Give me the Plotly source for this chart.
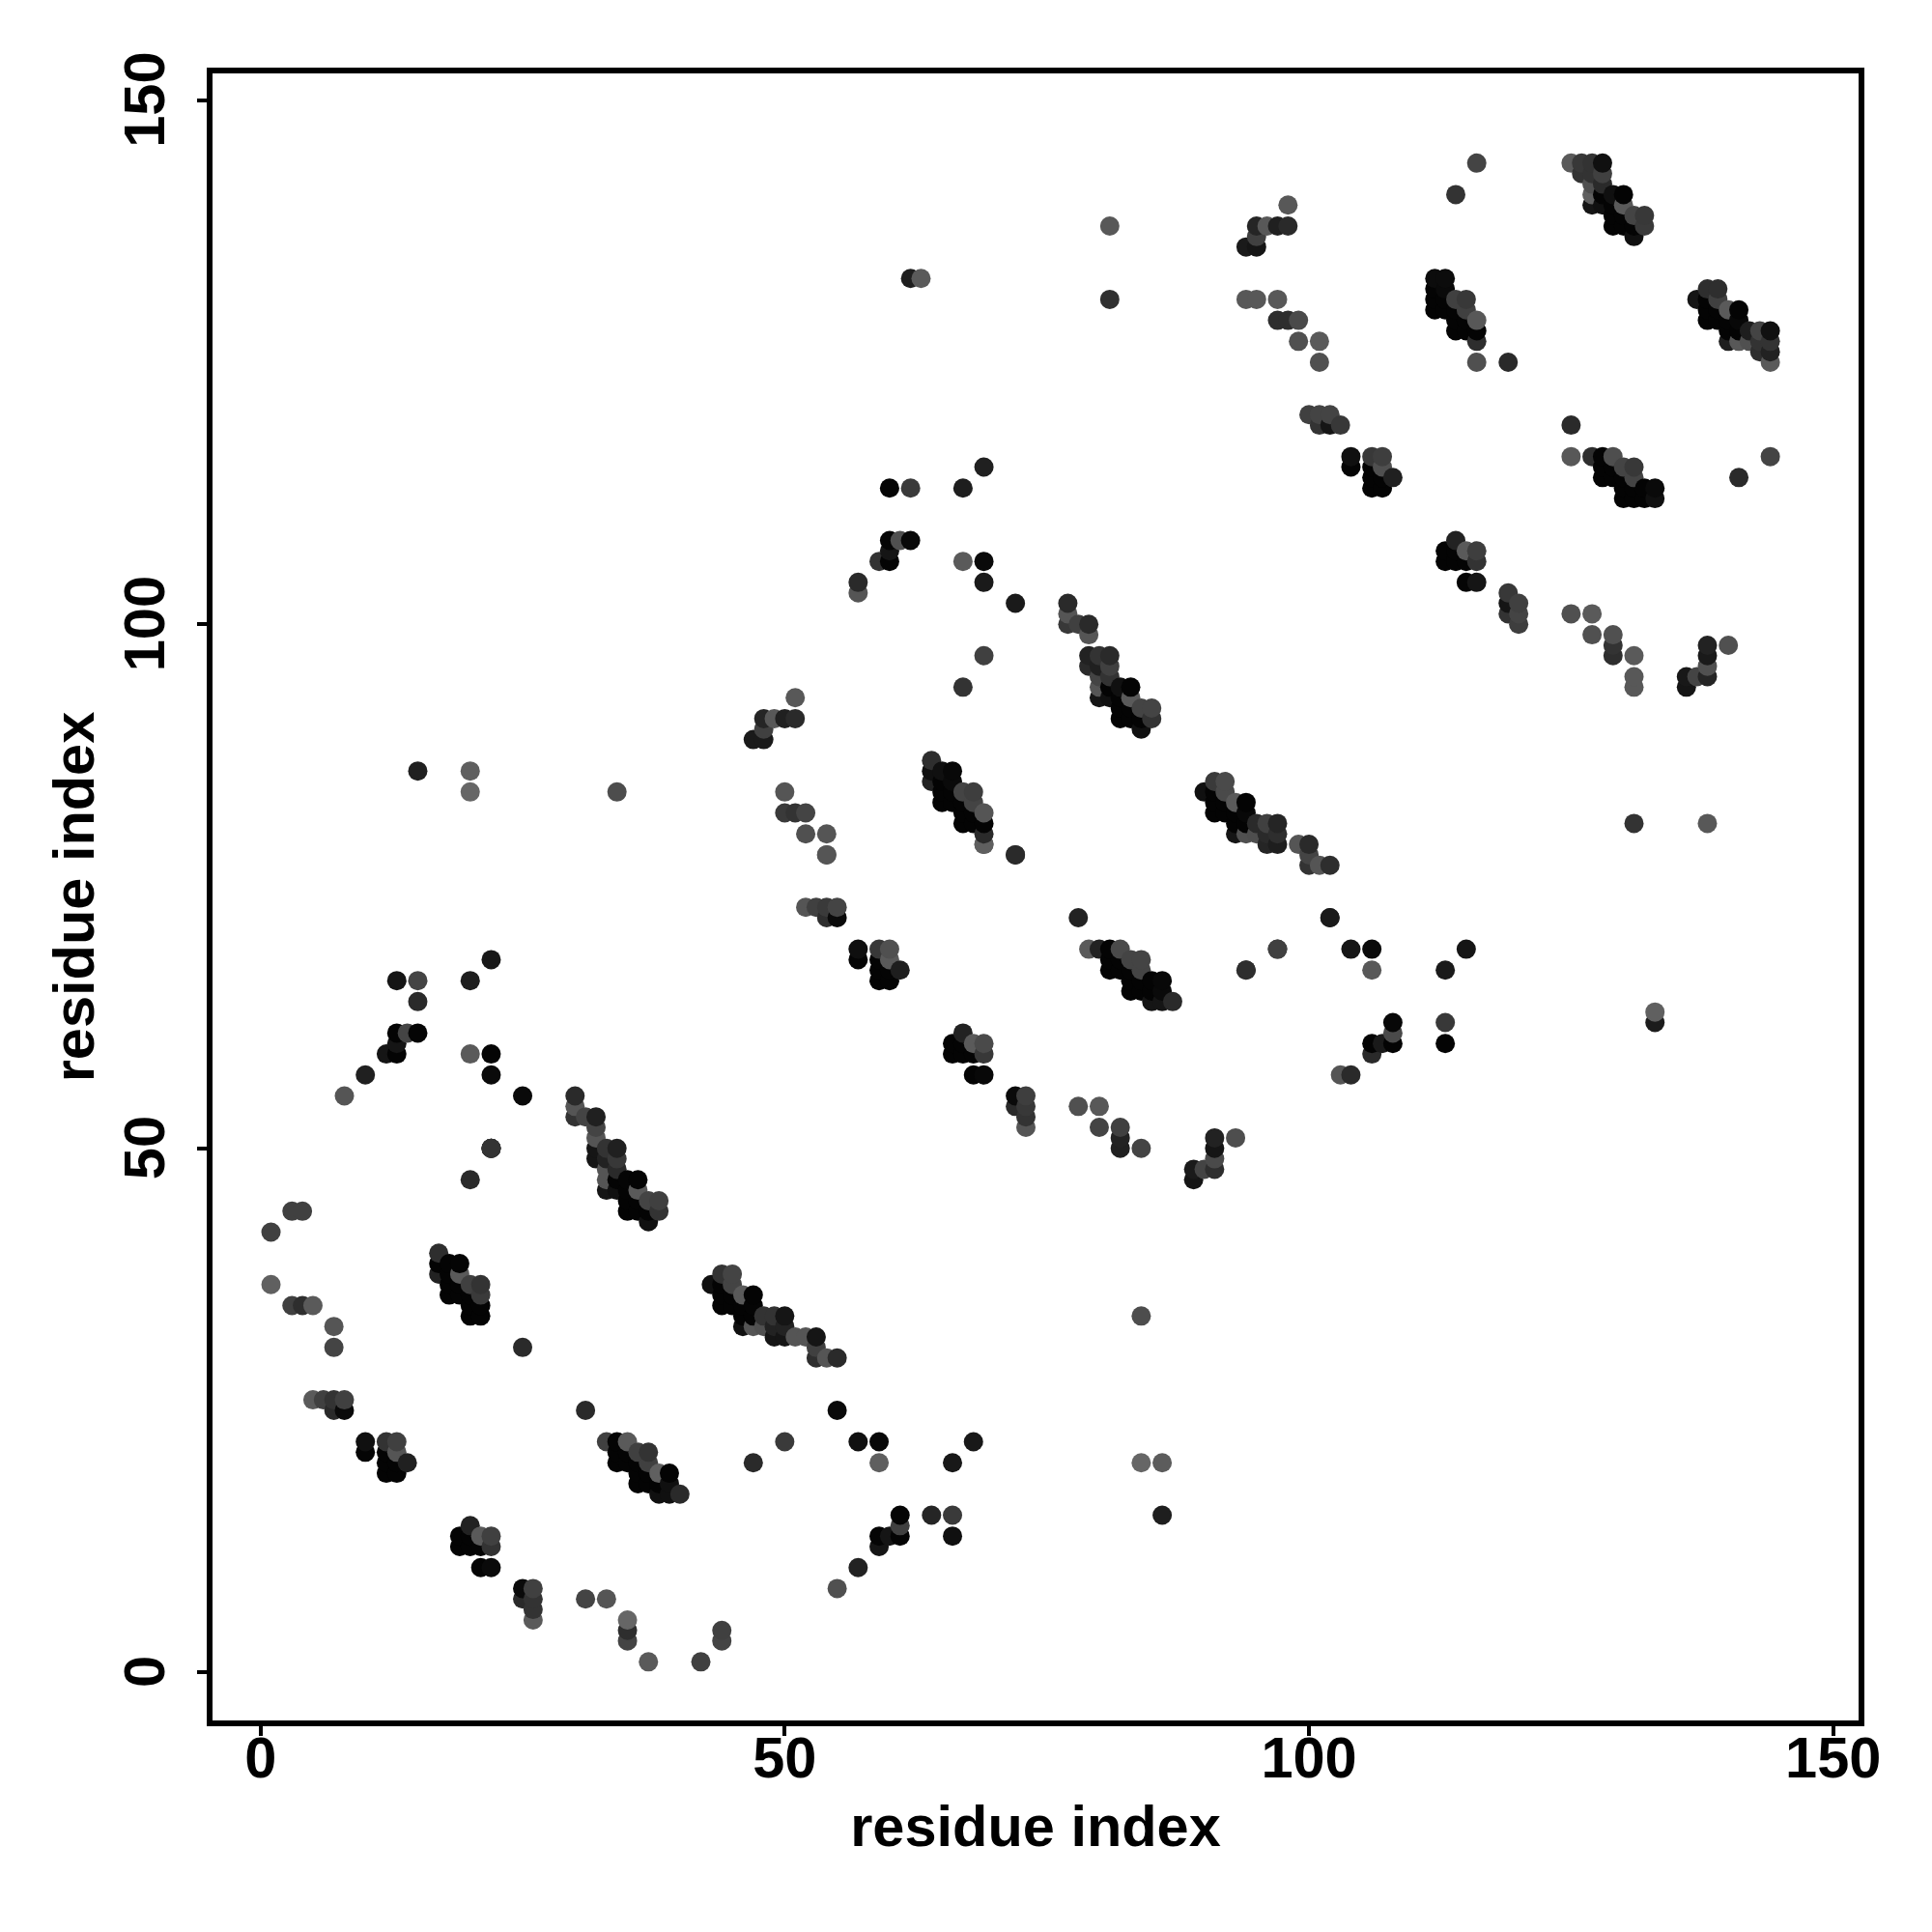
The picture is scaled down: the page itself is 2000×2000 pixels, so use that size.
import numpy as np
import plotly.graph_objects as go

# Each line of the three lists below lines up with the same line in the others.
residue_x = [
 1, 3, 4, 1, 3, 4, 5, 7, 7, 20, 25, 22, 22, 22, 22,
 17, 17, 18, 19, 17, 18, 19, 18, 19, 20, 21, 18, 19, 20, 21, 20, 21, 20, 21,
 5, 6, 7, 8, 7, 8, 10, 10, 12, 13, 12, 13, 12, 13, 14, 12, 13,
 20, 19, 20, 21, 22, 19, 20, 21, 22, 21, 22, 25, 26, 25, 26, 26, 26, 31, 33, 35, 35, 35, 37, 42,
 31, 33, 34, 35, 34, 35, 36, 37, 34, 35, 36, 37, 36, 37, 38, 39, 36, 37, 38, 39, 38, 39, 40,
 15, 20, 20, 34, 22, 13, 15, 20, 15, 13, 14, 15, 13, 12, 13, 10, 8, 20, 22, 22, 25,
 30, 30, 30, 31, 32, 32, 32, 32, 33, 34, 32, 33, 34, 33, 34, 33, 34, 35, 36,
 33, 34, 35, 36, 35, 36, 37, 38, 35, 36, 37, 38, 37,
 44, 45, 43, 44, 45, 44, 45, 46, 47, 44, 45, 46, 47, 46, 47, 48, 49, 50,
 46, 47, 48, 49, 50, 49, 50, 51, 52, 53, 53, 53, 54, 55, 55, 50, 47, 57, 59, 59, 66, 68, 84, 84, 86,
 61, 61, 59, 60, 61, 59, 64, 66, 66, 86, 57, 55, 44, 44,
 54, 72, 69, 52, 53, 54, 55, 54, 55, 78, 57, 59, 60, 57, 59, 60, 59, 60, 61, 59, 60,
 79, 80, 81, 82, 81, 82, 83, 84, 81, 82, 83, 84, 83, 84, 85, 86, 83, 84, 85, 86, 85, 86, 87,
 67, 66, 67, 68, 69, 66, 67, 68, 69, 68, 69, 72, 73, 72, 73, 78, 80, 73, 73, 80, 82, 82, 82, 84,
 97, 94, 104, 106, 106, 115, 113, 102, 108, 108, 106, 107, 108, 106, 113, 113, 103, 104,
 93, 91, 91, 91, 91, 90, 89, 89, 133, 133,
 60, 62, 67, 69, 60, 61, 62, 60, 59, 60, 57, 57, 67, 69, 69, 72,
 77, 77, 77, 78, 79, 79, 79, 80, 81, 79, 80, 81, 80, 81, 80, 81, 82, 83, 80, 81, 82, 83,
 82, 83, 84, 85, 82, 83, 84, 85, 84, 69, 67,
 64, 64, 65, 66, 64, 65, 66, 65, 66, 67, 68, 65, 66, 67, 68, 67, 68, 69, 67, 68, 69, 69, 69, 72,
 90, 91, 92, 91, 92, 91, 92, 93, 94, 91, 92, 93, 94, 93, 94, 95, 96, 97, 93, 94, 95, 96, 97,
 96, 97, 99, 100, 100, 100, 101, 102, 102, 97, 94,
 98, 114, 95, 96, 97, 98, 95, 94, 95, 94, 95, 97, 97, 98, 99, 99, 101, 101,
 100, 101, 102, 101, 102, 103, 104, 106, 107, 104, 106, 107, 106, 107, 108, 106, 107,
 112, 113, 112, 113, 112, 113, 114, 115, 112, 113, 114, 115, 114, 115, 116, 114, 115, 116, 116, 116, 119,
 138, 139, 137, 138, 139, 138, 139, 140, 141, 138, 139, 140, 141, 140, 141, 142, 143, 144,
 140, 141, 142, 143, 144, 143, 144, 144,
 125, 125, 127, 128, 129, 128, 129, 130, 131, 128, 129, 130, 131, 130, 131, 132, 133, 130, 131, 132, 133, 141, 144,
 114, 113, 114, 115, 116, 113, 114, 115, 116, 115, 116,
 119, 120, 119, 119, 120, 120, 125, 127, 127, 129, 129, 129, 131, 131, 131,
 138, 138, 138, 138, 140, 137, 136, 136, 131, 138,
 125, 126, 127, 128, 126, 127, 128, 127, 128, 127, 128, 129, 130, 127, 128, 129, 130, 129, 130, 131, 132, 129, 130, 131, 132, 131,
 116, 62, 63, 81, 81,
 47, 48, 48, 48, 49, 50, 51, 51, 50, 50, 51, 52, 52, 54, 54,
]
residue_y = [
 42, 44, 44, 37, 35, 35, 35, 33, 31, 47, 31, 50, 50, 50, 50,
 40, 39, 39, 39, 38, 38, 38, 37, 37, 37, 37, 36, 36, 36, 36, 35, 35, 34, 34,
 26, 26, 26, 26, 25, 25, 22, 21, 22, 22, 21, 21, 20, 20, 20, 19, 19,
 14, 13, 13, 13, 13, 12, 12, 12, 12, 10, 10, 8, 8, 7, 7, 6, 5, 7, 7, 5, 4, 3, 1, 1,
 25, 22, 22, 22, 21, 21, 21, 21, 20, 20, 20, 20, 19, 19, 19, 19, 18, 18, 18, 18, 17, 17, 17,
 86, 86, 84, 84, 68, 66, 66, 66, 64, 61, 61, 61, 60, 59, 59, 57, 55, 59, 59, 57, 55,
 55, 54, 53, 53, 53, 52, 51, 50, 50, 50, 49, 49, 49, 48, 48, 47, 47, 47, 47,
 46, 46, 46, 46, 45, 45, 45, 45, 44, 44, 44, 44, 43,
 38, 38, 37, 37, 37, 36, 36, 36, 36, 35, 35, 35, 35, 34, 34, 34, 34, 34,
 33, 33, 33, 33, 33, 32, 32, 32, 32, 32, 31, 30, 30, 30, 25, 22, 20, 22, 22, 20, 20, 22, 34, 20, 20,
 15, 14, 13, 13, 13, 12, 15, 15, 13, 15, 10, 8, 4, 3,
 78, 78, 79, 73, 73, 73, 73, 72, 72, 72, 69, 69, 69, 68, 68, 68, 67, 67, 67, 66, 66,
 69, 69, 69, 69, 68, 68, 68, 68, 67, 67, 67, 67, 66, 66, 66, 66, 65, 65, 65, 65, 64, 64, 64,
 61, 60, 60, 60, 60, 59, 59, 59, 59, 57, 57, 55, 55, 54, 54, 54, 54, 53, 52, 52, 52, 51, 50, 50,
 69, 67, 69, 69, 67, 69, 67, 72, 62, 61, 60, 60, 60, 59, 62, 60, 57, 57,
 51, 51, 50, 49, 48, 48, 48, 47, 63, 62,
 113, 113, 113, 115, 108, 108, 108, 107, 106, 106, 104, 103, 106, 106, 104, 102,
 102, 101, 100, 100, 100, 99, 97, 97, 97, 96, 96, 96, 95, 95, 94, 94, 94, 94, 93, 93, 93, 93,
 92, 92, 92, 92, 91, 91, 91, 91, 90, 97, 94,
 87, 86, 86, 86, 85, 85, 85, 84, 84, 84, 84, 83, 83, 83, 83, 82, 82, 82, 81, 81, 81, 80, 79, 78,
 84, 85, 85, 84, 84, 83, 83, 83, 83, 82, 82, 82, 82, 81, 81, 81, 81, 81, 80, 80, 80, 80, 80,
 79, 79, 79, 79, 78, 77, 77, 77, 72, 69, 67,
 140, 141, 138, 138, 138, 138, 137, 136, 136, 131, 131, 131, 129, 129, 129, 127, 127, 125,
 120, 120, 120, 119, 119, 119, 116, 116, 116, 115, 115, 115, 114, 114, 114, 113, 113,
 133, 133, 132, 132, 131, 131, 131, 131, 130, 130, 130, 130, 129, 129, 129, 128, 128, 128, 127, 125, 125,
 132, 132, 131, 131, 131, 130, 130, 130, 130, 129, 129, 129, 129, 128, 128, 128, 128, 128,
 127, 127, 127, 127, 127, 126, 126, 125,
 119, 116, 116, 116, 116, 115, 115, 115, 115, 114, 114, 114, 114, 113, 113, 113, 113, 112, 112, 112, 112, 114, 116,
 108, 107, 107, 107, 107, 106, 106, 106, 106, 104, 104,
 103, 102, 102, 101, 101, 100, 101, 101, 99, 99, 98, 97, 97, 95, 94,
 98, 97, 96, 95, 98, 95, 95, 94, 81, 81,
 144, 144, 144, 144, 143, 143, 143, 142, 142, 141, 141, 141, 141, 140, 140, 140, 140, 139, 139, 139, 139, 138, 138, 138, 138, 137,
 144, 133, 133, 138, 131,
 89, 89, 90, 91, 91, 91, 91, 93, 84, 82, 82, 82, 80, 80, 78,
]
grey_level = [
 64, 64, 64, 96, 64, 46, 90, 85, 68, 42, 42, 51, 51, 51, 51,
 46, 4, 4, 4, 34, 4, 90, 4, 4, 64, 51, 4, 4, 4, 58, 4, 4, 4, 4,
 90, 64, 51, 64, 42, 10, 16, 5, 51, 64, 4, 85, 4, 4, 32, 4, 4,
 34, 4, 4, 90, 64, 4, 4, 4, 51, 4, 10, 10, 64, 42, 51, 51, 90, 68, 85, 102, 46, 68, 90, 64,
 42, 64, 4, 90, 4, 4, 64, 51, 4, 4, 4, 64, 4, 4, 96, 4, 4, 4, 4, 16, 16, 16, 42,
 32, 95, 102, 77, 24, 21, 68, 30, 42, 4, 68, 5, 21, 21, 4, 32, 85, 90, 5, 10, 10,
 42, 85, 51, 68, 32, 68, 85, 21, 51, 32, 21, 34, 56, 85, 42, 85, 4, 5, 4,
 21, 16, 4, 90, 4, 4, 68, 64, 4, 4, 4, 51, 16,
 51, 68, 16, 4, 68, 4, 4, 90, 4, 4, 4, 4, 5, 4, 4, 51, 51, 21,
 16, 85, 80, 34, 34, 21, 21, 85, 85, 21, 64, 46, 85, 42, 10, 58, 42, 16, 8, 95, 24, 24, 77, 102, 92,
 5, 64, 5, 21, 4, 21, 37, 58, 16, 30, 34, 80, 64, 68,
 80, 34, 95, 85, 64, 58, 68, 46, 10, 34, 15, 56, 80, 5, 4, 90, 4, 4, 30, 4, 4,
 90, 34, 4, 74, 4, 4, 68, 68, 4, 4, 4, 68, 4, 4, 4, 8, 4, 4, 4, 10, 21, 21, 42,
 34, 4, 4, 90, 74, 4, 4, 4, 56, 4, 8, 10, 62, 42, 56, 80, 88, 51, 85, 68, 64, 34, 32, 68,
 58, 42, 21, 10, 88, 21, 26, 26, 8, 74, 4, 26, 4, 42, 56, 4, 85, 42,
 78, 34, 21, 74, 46, 68, 26, 21, 96, 28,
 5, 58, 30, 32, 5, 80, 8, 21, 51, 4, 42, 85, 90, 10, 26, 26,
 42, 85, 56, 64, 42, 85, 34, 51, 42, 42, 32, 64, 68, 51, 85, 4, 16, 4, 21, 16, 4, 90,
 4, 4, 68, 68, 4, 4, 4, 51, 16, 64, 51,
 46, 16, 16, 8, 34, 4, 10, 4, 4, 68, 62, 4, 4, 4, 68, 4, 4, 85, 4, 4, 4, 42, 95, 42,
 16, 58, 74, 4, 74, 4, 4, 90, 4, 4, 4, 4, 8, 4, 4, 42, 64, 37, 21, 80, 78, 42, 46,
 37, 30, 85, 42, 68, 51, 85, 46, 26, 64, 46,
 88, 51, 37, 88, 32, 42, 64, 26, 21, 88, 88, 88, 46, 46, 74, 80, 90, 80,
 64, 68, 68, 51, 21, 56, 16, 56, 62, 5, 4, 80, 4, 4, 32, 4, 4,
 12, 12, 4, 10, 4, 4, 64, 56, 4, 4, 4, 64, 4, 4, 88, 4, 4, 4, 46, 80, 42,
 46, 46, 21, 4, 64, 4, 4, 90, 4, 4, 4, 4, 8, 4, 4, 30, 68, 16,
 30, 88, 80, 51, 51, 46, 34, 90,
 42, 88, 46, 4, 78, 4, 4, 68, 56, 4, 4, 4, 68, 4, 4, 4, 10, 4, 4, 4, 16, 42, 68,
 34, 4, 4, 90, 62, 4, 4, 4, 51, 5, 21,
 56, 64, 21, 51, 68, 62, 80, 90, 80, 80, 51, 46, 90, 88, 88,
 34, 26, 80, 37, 80, 68, 24, 21, 51, 88,
 90, 56, 51, 16, 51, 51, 64, 80, 42, 96, 4, 16, 4, 21, 16, 4, 90, 4, 4, 68, 56, 4, 4, 4, 58, 16,
 68, 30, 90, 88, 48,
 26, 26, 64, 37, 88, 32, 42, 88, 85, 58, 51, 68, 80, 85, 85,
]

x_ticks = [0, 50, 100, 150]
y_ticks = [0, 50, 100, 150]
x_title = "residue index"
y_title = "residue index"

xs = np.array(residue_x)
ys = np.array(residue_y)
gs = np.array(grey_level)
n = min(len(xs), len(ys), len(gs))
print(len(xs), len(ys), len(gs))
xs, ys, gs = xs[:n], ys[:n], gs[:n]
order = np.lexsort((ys, xs))
xs, ys, gs = xs[order], ys[order], gs[order]
colors = [f"rgb({g},{g},{g})" for g in gs]

FONT = "Liberation Sans"
TEXT = dict(family=FONT, size=59.5, color="black", weight="bold")

fig = go.Figure(go.Scatter(
    x=xs, y=ys, mode="markers",
    marker=dict(size=20, color=colors, line=dict(width=0), opacity=1),
    hoverinfo="skip",
))
axis_common = dict(
    showgrid=False, zeroline=False, showline=True, mirror=True,
    linecolor="black", linewidth=5.5,
    ticks="outside", ticklen=10, tickwidth=4, tickcolor="black",
    tickfont=TEXT, tickmode="array",
)
fig.update_xaxes(range=[-4.577, 152.42], tickvals=x_ticks, ticktext=[str(t) for t in x_ticks],
                 ticklabelstandoff=-28,
                 title=dict(text=x_title, font=TEXT, standoff=19), **axis_common)
fig.update_yaxes(range=[-4.59, 152.56], tickvals=y_ticks, ticktext=[f"{t}\u00a0" for t in y_ticks],
                 tickangle=-90, ticklabelstandoff=10,
                 title=dict(text=y_title, font=TEXT, standoff=2), **axis_common)
fig.update_layout(
    width=2000, height=2000, autosize=False,
    margin=dict(l=211.5, r=83.5, t=67.5, b=227.3, pad=0, autoexpand=False),
    paper_bgcolor="white", plot_bgcolor="white", showlegend=False,
)
fig.write_html("out.html")
